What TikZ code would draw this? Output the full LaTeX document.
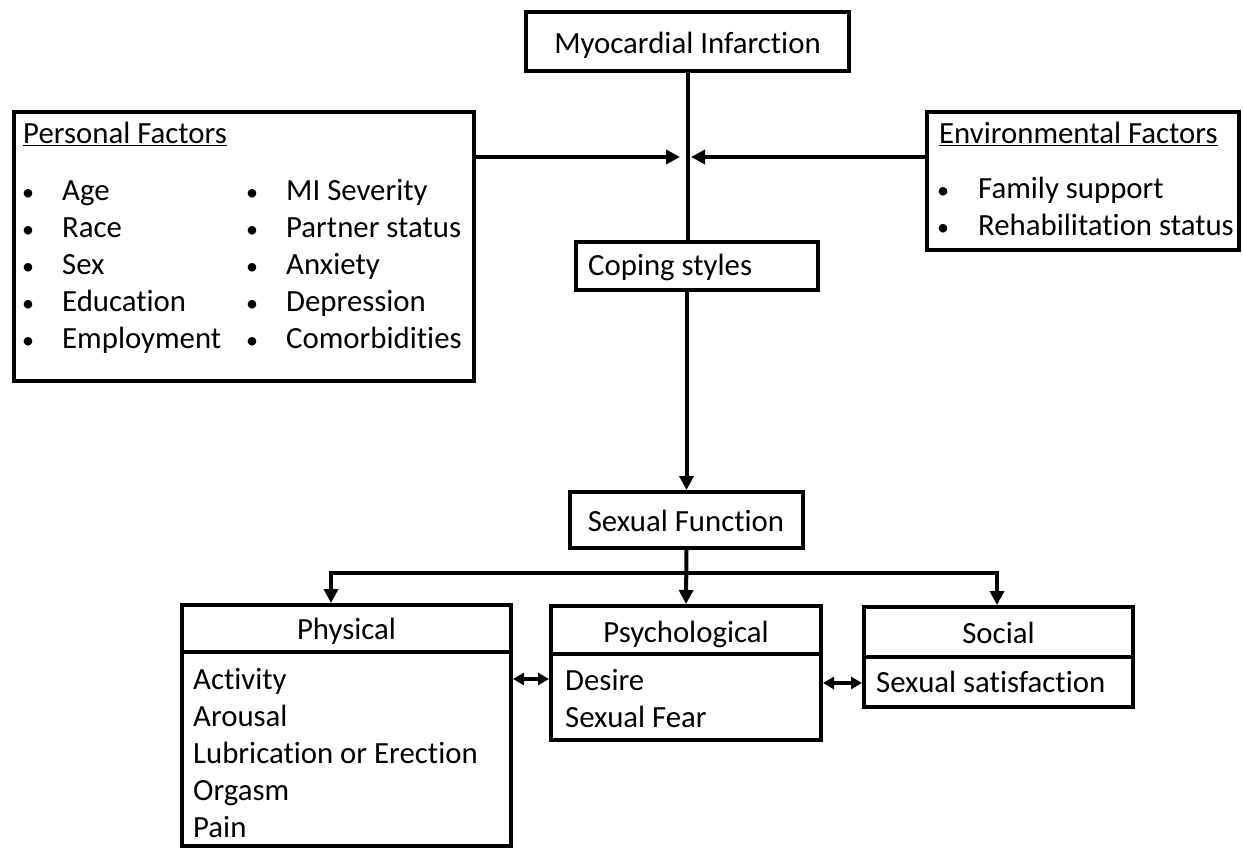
\documentclass[tikz,border=0pt]{standalone}
\usepackage{fontspec}
\setmainfont[Ligatures=NoCommon]{Carlito}
\usetikzlibrary{arrows.meta}
\tikzset{
  box/.style={draw, line width=4pt, rectangle, inner sep=0pt},
  txt/.style={anchor=base west, inner sep=0pt, font=\fontsize{30.8}{36}\selectfont},
  ctxt/.style={anchor=base, inner sep=0pt, font=\fontsize{30.8}{36}\selectfont},
  conn/.style={line width=4pt},
  arr/.style={line width=4pt, -{Triangle[length=14pt,width=14pt]}},
  darr/.style={line width=4pt, {Triangle[length=11pt,width=12pt]}-{Triangle[length=11pt,width=12pt]}},
  bul/.style={anchor=base, inner sep=0pt, font=\fontsize{30.8}{36}\selectfont},
}
\newcommand{\smallbul}{\scalebox{0.78}{\textbullet}}
\begin{document}
\begin{tikzpicture}[x=1pt,y=-1pt]
\useasboundingbox (0,0) rectangle (1243,850);
% boxes
\node[box, minimum width=323pt, minimum height=59pt] (mi) at (687.5,41.5) {};
\node[box, minimum width=460pt, minimum height=269pt] (pers) at (244,246.5) {};
\node[box, minimum width=312pt, minimum height=138pt] (env) at (1083,181) {};
\node[box, minimum width=242pt, minimum height=48pt] (cope) at (697,266) {};
\node[box, minimum width=233pt, minimum height=56pt] (sf) at (686.5,520) {};
\node[box, minimum width=329pt, minimum height=241pt] (phys) at (346.5,725.5) {};
\node[box, minimum width=270pt, minimum height=134pt] (psy) at (686,673) {};
\node[box, minimum width=269pt, minimum height=100pt] (soc) at (998.5,657) {};
% dividers
\draw[conn] (phys.west |- 0,652) -- (phys.east |- 0,652);
\draw[conn] (psy.west |- 0,654) -- (psy.east |- 0,654);
\draw[conn] (soc.west |- 0,657) -- (soc.east |- 0,657);
% texts
\node[ctxt] (mit) at (687.5,54) {Myocardial Infarction};
\node[txt] (pft) at (23,144) {\underline{Personal Factors}};
\node[bul] (b1) at (28,201) {\smallbul};
\node[bul] (b2) at (28,238) {\smallbul};
\node[bul] (b3) at (28,275) {\smallbul};
\node[bul] (b4) at (28,312) {\smallbul};
\node[bul] (b5) at (28,349) {\smallbul};
\node[txt] (p1) at (62,201) {Age};
\node[txt] (p2) at (62,238) {Race};
\node[txt] (p3) at (62,275) {Sex};
\node[txt] (p4) at (62,312) {Education};
\node[txt] (p5) at (62,349) {Employment};
\node[bul] (b6) at (252,201) {\smallbul};
\node[bul] (b7) at (252,238) {\smallbul};
\node[bul] (b8) at (252,275) {\smallbul};
\node[bul] (b9) at (252,312) {\smallbul};
\node[bul] (b10) at (252,349) {\smallbul};
\node[txt] (p6) at (286,201) {MI Severity};
\node[txt] (p7) at (286,238) {Partner status};
\node[txt] (p8) at (286,275) {Anxiety};
\node[txt] (p9) at (286,312) {Depression};
\node[txt] (p10) at (286,349) {Comorbidities};
\node[txt] (eft) at (939,144) {\underline{Environmental Factors}};
\node[bul] (eb1) at (943,199) {\smallbul};
\node[bul] (eb2) at (943,236) {\smallbul};
\node[txt] (e1) at (978,199) {Family support};
\node[txt] (e2) at (978,236) {Rehabilitation status};
\node[txt] (cst) at (588,276) {Coping styles};
\node[ctxt] (sft) at (686,531) {Sexual Function};
\node[ctxt] (pht) at (346.5,639) {Physical};
\node[ctxt] (pst) at (686,642) {Psychological};
\node[ctxt] (sot) at (998.5,643) {Social};
\node[txt] (ph1) at (193,689) {Activity};
\node[txt] (ph2) at (193,726) {Arousal};
\node[txt] (ph3) at (193,763) {Lubrication or Erection};
\node[txt] (ph4) at (193,800) {Orgasm};
\node[txt] (ph5) at (193,837) {Pain};
\node[txt] (ps1) at (565,690) {Desire};
\node[txt] (ps2) at (565,727) {Sexual Fear};
\node[txt] (so1) at (876,692) {Sexual satisfaction};
% connectors
\coordinate (jl) at (680,157);
\coordinate (jr) at (691,157);
\coordinate (hl) at (331,573);
\coordinate (hr) at (997,573);
\coordinate (d1) at (0,679);
\coordinate (d2) at (0,683);
\draw[conn] (mi.south) -- (mi.south |- cope.north);
\draw[arr] (pers.east |- jl) -- (jl);
\draw[arr] (env.west |- jr) -- (jr);
\draw[arr] (sf.north |- cope.south) -- (sf.north);
\draw[arr] (sf.south) -- (psy.north);
\draw[line width=4pt, {Triangle[length=14pt,width=14pt]}-{Triangle[length=14pt,width=14pt]}] (hl |- phys.north) -- (hl) -- (hr) -- (hr |- soc.north);
\draw[darr] (phys.east |- d1) -- (psy.west |- d1);
\draw[darr] (psy.east |- d2) -- (soc.west |- d2);
\end{tikzpicture}
\end{document}
